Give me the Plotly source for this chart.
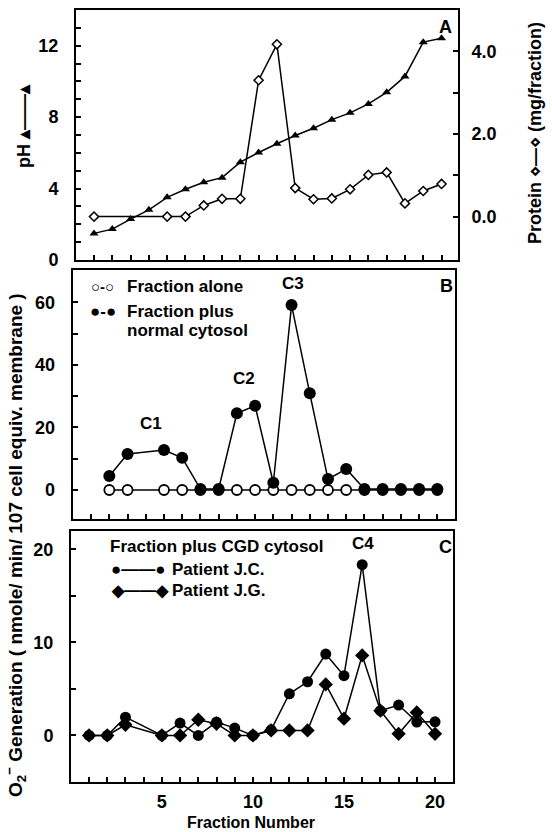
import plotly.graph_objects as go

# ---------------- data ----------------
ph_fractions = list(range(1, 21))
ph_values = [1.49, 1.73, 2.29, 2.81, 3.51, 3.96, 4.35, 4.61, 5.48, 6.02,
             6.51, 6.97, 7.38, 7.86, 8.24, 8.74, 9.39, 10.28, 12.2, 12.42]

protein_fractions = [1, 5, 6, 7, 8, 9, 10, 11, 12, 13, 14, 15, 16, 17, 18, 19, 20]
protein_values = [0.0, 0.0, 0.0, 0.27, 0.43, 0.43, 3.30, 4.17, 0.69, 0.42,
                  0.44, 0.66, 1.01, 1.07, 0.32, 0.62, 0.79]

b_fractions = [2, 3, 5, 6, 7, 8, 9, 10, 11, 12, 13, 14, 15, 16, 17, 18, 19, 20]
b_alone = [0, 0, 0, 0, 0, 0, 0, 0, 0, 0, 0, 0, 0, 0, 0, 0, 0, 0]
b_normal = [4.5, 11.5, 12.8, 10.3, 0.3, 0.3, 24.5, 26.9, 2.3, 59.1,
            30.9, 3.5, 6.7, 0.3, 0.3, 0.3, 0.3, 0.3]

c_fractions = [1, 2, 3, 5, 6, 7, 8, 9, 10, 11, 12, 13, 14, 15, 16, 17, 18, 19, 20]
c_jc = [0, 0, 1.97, 0, 1.33, 0, 1.44, 0.79, 0, 0.61, 4.48, 5.77, 8.75,
        6.42, 18.35, 2.66, 3.27, 1.44, 1.47]
c_jg = [0, 0, 1.15, 0, 0, 1.69, 1.26, 0, 0, 0.54, 0.54, 0.54, 5.48,
        1.8, 8.6, 2.66, 0.18, 2.47, 0.18]

W, H = 552, 832
FONT = "Liberation Sans"
FS = 17
TFS = 18


def px(x):
    return x / W


def py(y):
    return 1 - y / H


tickfont = dict(family=FONT, size=TFS, color="black", weight="bold")
axis_common = dict(showline=True, linewidth=2, linecolor="black", mirror=True,
                   ticks="inside", ticklen=5, tickwidth=1.5, tickcolor="black",
                   showgrid=False, zeroline=False, tickfont=tickfont,
                   automargin=False)
minor_style = dict(ticks="inside", ticklen=5, tickwidth=1.5, tickcolor="black")

fig = go.Figure()

# Panel A
fig.add_trace(go.Scatter(x=ph_fractions, y=ph_values, xaxis="x", yaxis="y",
                         mode="lines+markers",
                         line=dict(color="black", width=1.5),
                         marker=dict(symbol="triangle-up", size=8, color="black")))
fig.add_trace(go.Scatter(x=protein_fractions, y=protein_values, xaxis="x", yaxis="y2",
                         mode="lines+markers",
                         line=dict(color="black", width=1.5),
                         marker=dict(symbol="diamond", size=7, color="white",
                                     line=dict(color="black", width=1.5))))

# Panel B
fig.add_trace(go.Scatter(x=b_fractions, y=b_alone, xaxis="x2", yaxis="y3",
                         mode="lines+markers",
                         line=dict(color="black", width=1.5),
                         marker=dict(symbol="circle", size=10, color="white",
                                     line=dict(color="black", width=1.8))))
fig.add_trace(go.Scatter(x=b_fractions, y=b_normal, xaxis="x2", yaxis="y3",
                         mode="lines+markers",
                         line=dict(color="black", width=1.5),
                         marker=dict(symbol="circle", size=12, color="black")))

# Panel C
fig.add_trace(go.Scatter(x=c_fractions, y=c_jg, xaxis="x3", yaxis="y4",
                         mode="lines+markers",
                         line=dict(color="black", width=1.5),
                         marker=dict(symbol="diamond", size=11, color="black")))
fig.add_trace(go.Scatter(x=c_fractions, y=c_jc, xaxis="x3", yaxis="y4",
                         mode="lines+markers",
                         line=dict(color="black", width=1.5),
                         marker=dict(symbol="circle", size=11, color="black")))

fig.update_layout(
    width=W, height=H, margin=dict(l=0, r=0, t=0, b=0),
    paper_bgcolor="white", plot_bgcolor="white", showlegend=False,
    font=dict(family=FONT, size=FS, color="black", weight="bold"),
    # Panel A
    xaxis=dict(axis_common, domain=[px(76), px(458)], range=[0.016, 20.9],
               anchor="y", tickmode="linear", tick0=1, dtick=1, showticklabels=False),
    yaxis=dict(axis_common, domain=[py(260), py(10)], range=[0, 14], anchor="x",
               tickvals=[0, 4, 8, 12], ticklabelstandoff=12,
               minor=dict(minor_style, tickvals=[1, 2, 3, 5, 6, 7, 9, 10, 11, 13])),
    yaxis2=dict(axis_common, overlaying="y", side="right", anchor="x",
                range=[-1.05, 5.0], tickvals=[0, 2, 4], tickformat=".1f",
                ticklabelstandoff=8, mirror=False,
                minor=dict(minor_style, tickvals=[1, 3])),
    # Panel B
    xaxis2=dict(axis_common, domain=[px(72.7), px(455)], range=[-0.01, 20.97],
                anchor="y3", tickmode="linear", tick0=1, dtick=1, showticklabels=False),
    yaxis3=dict(axis_common, domain=[py(519), py(270)], range=[-9.27, 70.3],
                anchor="x2", tickvals=[0, 20, 40, 60], ticklabelstandoff=12,
                minor=dict(minor_style, tickvals=[10, 30, 50])),
    # Panel C
    xaxis3=dict(axis_common, domain=[px(71), px(452.7)], range=[0.01, 20.97],
                anchor="y4", tickvals=[5, 10, 15, 20], ticklabelstandoff=2,
                minor=dict(minor_style, tickvals=[1, 2, 3, 4, 6, 7, 8, 9, 11, 12, 13, 14,
                                                  16, 17, 18, 19])),
    yaxis4=dict(axis_common, domain=[py(782), py(530.7)], range=[-5, 22],
                anchor="x3", tickvals=[0, 10, 20], ticklabelstandoff=12,
                minor=dict(minor_style, tickvals=[5, 15])),
)

ann = []


def text(x, y, t, size=FS, xanchor="center", angle=0, yanchor="middle"):
    ann.append(dict(x=px(x), y=py(y), xref="paper", yref="paper", text=t,
                    showarrow=False, xanchor=xanchor, yanchor=yanchor,
                    textangle=angle,
                    font=dict(family=FONT, size=size, color="black", weight="bold")))


# panel letters
text(445, 26.7, "A", size=18)
text(446.7, 286, "B", size=18)
text(445, 546.7, "C", size=18)

# peak labels
text(150.7, 423.3, "C1")
text(244, 378.3, "C2")
text(292.7, 283.3, "C3")
text(363.3, 543.3, "C4")

# legend panel B
text(89, 286, "○-○", size=15, xanchor="left")
text(125, 286, "Fraction alone", xanchor="left")
text(88, 311.7, "●-●", size=17, xanchor="left")
text(125, 311.7, "Fraction plus", xanchor="left")
text(125, 330.7, "normal cytosol", xanchor="left")

# legend panel C
text(108, 546.7, "Fraction plus CGD cytosol", xanchor="left")
text(109, 569, "●——●", size=17, xanchor="left")
text(170, 569, "Patient J.C.", xanchor="left")
text(109, 590, "◆——◆", size=16, xanchor="left")
text(170, 590, "Patient J.G.", xanchor="left")

# axis titles
text(24, 126, "pH ▴——▴", size=18, angle=-90)
text(535, 133, "Protein ⋄—⋄ (mg/fraction)", size=18, angle=-90)
text(15, 545, "O<sub>2</sub><sup>−</sup> Generation ( nmole/ min/ 107 cell equiv. membrane )",
     size=19, angle=-90)
text(251, 822, "Fraction Number", size=16)

fig.update_layout(annotations=ann)
fig.write_html("out.html", config={"displayModeBar": False},
               post_script="document.body.style.margin='0';document.body.style.overflow='hidden';")
